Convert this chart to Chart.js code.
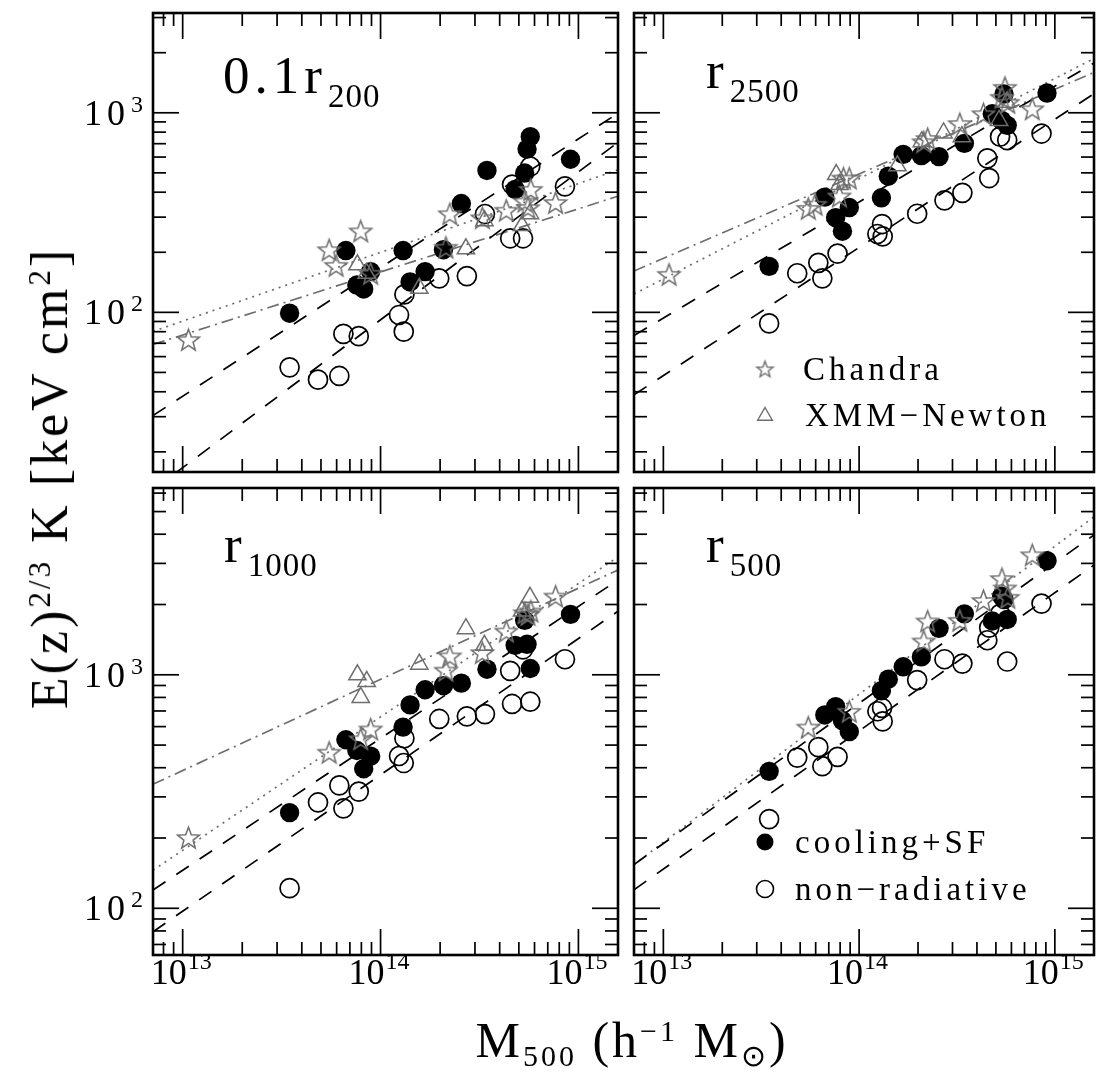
<!DOCTYPE html>
<html>
<head>
<meta charset="utf-8">
<title>Entropy - mass relation</title>
<style>
  body { margin: 0; background: #fff; }
  #wrap { position: relative; width: 1107px; height: 1081px; font-family: "Liberation Serif", serif; color: #000; }
  #wrap canvas { position: absolute; left: 0; top: 0; }
  #ytitle { position: absolute; left: 50px; top: 478px; transform: translate(-50%, -50%) rotate(-90deg);
            font-size: 52px; line-height: 1; white-space: nowrap; letter-spacing: 3px; }
  #xtitle { position: absolute; left: 632px; top: 1040px; transform: translate(-50%, -50%);
            font-size: 50px; line-height: 1; white-space: nowrap; letter-spacing: 3px; }
  sup { font-size: 0.6em; vertical-align: 0.55em; line-height: 0; }
  sub { font-size: 0.6em; vertical-align: -0.3em; line-height: 0; }
</style>
</head>
<body>
<div id="wrap">
  <canvas id="c0" width="1107" height="1081"></canvas>
  <canvas id="c1" width="1107" height="1081"></canvas>
  <canvas id="c2" width="1107" height="1081"></canvas>
  <canvas id="c3" width="1107" height="1081"></canvas>
  <div id="ytitle">E(z)<sup>2/3</sup> K [keV cm<sup>2</sup>]</div>
  <div id="xtitle">M<sub>500</sub> (h<sup>−1</sup> M<sub>⊙</sub>)</div>
</div>
<script src="https://cdn.jsdelivr.net/npm/chart.js@4.4.1/dist/chart.umd.min.js"></script>
<script>
// masses in units of 1e14 h^-1 Msun
const massCool    = [0.347, 0.668, 0.759, 0.822, 0.891, 1.30, 1.41, 1.68, 2.08, 2.56, 3.45, 4.79, 5.35, 5.50, 5.71, 9.12];
const massNonRad  = [0.347, 0.483, 0.619, 0.649, 0.776, 1.24, 1.31, 1.32, 1.98, 2.73, 3.37, 4.52, 4.62, 5.25, 5.71, 8.55];
const massChandra = [0.107, 0.550, 0.596, 0.794, 0.832, 0.891, 2.14, 2.24, 3.27, 4.32, 5.37, 5.56, 5.75, 7.67];
const massXMM     = [0.764, 0.794, 0.851, 1.57, 2.09, 2.70, 3.35, 5.19, 5.69];
const fitMass     = [0.0708, 15.85];

// entropy (keV cm^2) at 0.1 r200
const coolK01    = [99, 204, 137, 131, 160, 204, 142, 160, 206, 351, 514, 413, 499, 658, 759, 585];
const nonRadK01  = [53, 46, 48, 78, 76, 97, 80, 123, 148, 152, 311, 235, 437, 235, 538, 428];
const chandraK01 = [73, 206, 172, 256, null, 157, 212, 312, 298, 325, 361, 335, 413, 355];
const xmmK01     = [173, null, 157, 132, null, 208, 288, 272, 312];
const fitsK01    = { cool: [30.4, 995], nonRad: [12.9, 711], chandra: [80.2, 518], xmm: [69, 382] };

// r2500
const coolK2500    = [170, 378, 298, 255, 335, 375, 481, 619, 610, 603, 703, 989, 916, 1242, 865, 1256];
const nonRadK2500  = [88, 157, 177, 148, 197, 247, 277, 240, 312, 364, 397, 591, 471, 759, 730, 787];
const chandraK2500 = [155, 332, 348, 383, 471, 471, 716, 743, 883, 989, 1196, 1341, 1129, 1047];
const xmmK2500     = [490, 437, null, 542, 716, 793, 759, 916, 1129];
const fitsK2500    = { cool: [76.6, 1778], nonRad: [38.6, 1247], chandra: [123.6, 1871], xmm: [161, 1592] };

// r1000
const coolK1000    = [257, 527, 474, 396, 448, 597, 743, 863, 898, 921, 1057, 1337, 1711, 1351, 1064, 1814];
const nonRadK1000  = [122, 284, 336, 268, 316, 449, 419, 535, 647, 664, 679, 1040, 750, 1286, 767, 1166];
const chandraK1000 = [201, 466, null, 532, null, 586, 1047, 1205, 1245, 1540, 1845, 1814, 1875, 2173];
const xmmK1000     = [1000, 800, 937, 1110, null, 1575, 1337, 1875, 2148];
const fitsK1000    = { cool: [119.7, 2547], nonRad: [79.4, 1871], chandra: [145.5, 3199], xmm: [340, 2812] };

// r500
const coolK500    = [386, 673, 731, 637, 571, 855, 958, 1082, 1193, 1581, 1824, 1700, 2173, 2100, 1726, 3080];
const nonRadK500  = [241, 442, 490, 406, 445, 698, 721, 632, 949, 1166, 1117, 1406, 1592, 1824, 1140, 2018];
const chandraK500 = [null, 597, null, null, null, 698, 1396, 1700, 1711, 2080, 2582, 2355, 2148, 3266];
const xmmK500     = [];
const fitsK500    = { cool: [154, 3972], nonRad: [120, 2951], chandra: [154, 4753], xmm: null };

const xTickVals = [1e13, 1e14, 1e15];
const xTickExp  = ['13', '14', '15'];
const yTickVals = [1e2, 1e3];
const yTickExp  = ['2', '3'];

const GRAY = '#6e6e6e';
const SERIF = '"Liberation Serif", "DejaVu Serif", serif';

function makeStar(r, lw, color) {
  const s = Math.ceil(2 * r + lw + 4);
  const c = document.createElement('canvas');
  c.width = c.height = s;
  const g = c.getContext('2d');
  g.translate(s / 2, s / 2 + r * 0.1);
  g.beginPath();
  for (let i = 0; i < 10; i++) {
    const rr = i % 2 ? r * 0.42 : r;
    const ang = -Math.PI / 2 + i * Math.PI / 5;
    g.lineTo(rr * Math.cos(ang), rr * Math.sin(ang));
  }
  g.closePath();
  g.strokeStyle = color;
  g.lineWidth = lw;
  g.stroke();
  return c;
}
const starImg = makeStar(11.5, 1.5, GRAY);
const starSmall = makeStar(8.5, 1.4, GRAY);

function pts(mass, vals) {
  const out = [];
  mass.forEach((m, i) => {
    if (vals[i] != null) out.push({ x: m * 1e14, y: vals[i] });
  });
  return out;
}

function drawTriangle(ctx, x, y, r) {
  ctx.beginPath();
  for (let i = 0; i < 3; i++) {
    const ang = -Math.PI / 2 + i * 2 * Math.PI / 3;
    ctx.lineTo(x + r * Math.cos(ang), y + r * Math.sin(ang));
  }
  ctx.closePath();
  ctx.stroke();
}

const framePlugin = {
  id: 'frame',
  afterDatasetsDraw(chart, args, o) {
    const ctx = chart.ctx, a = chart.chartArea;
    const xs = chart.scales.x, ys = chart.scales.y;
    const seg = (x1, y1, x2, y2) => { ctx.beginPath(); ctx.moveTo(x1, y1); ctx.lineTo(x2, y2); ctx.stroke(); };
    ctx.save();
    ctx.strokeStyle = '#000';
    ctx.lineWidth = 1.7;
    for (let d = 12; d <= 15; d++) {
      for (let m = 1; m <= 9; m++) {
        const v = m * Math.pow(10, d);
        if (v < xs.min || v > xs.max) continue;
        const px = xs.getPixelForValue(v), len = m === 1 ? 26 : 13;
        seg(px, a.top, px, a.top + len);
        seg(px, a.bottom, px, a.bottom - len);
      }
    }
    for (let d = 1; d <= 3; d++) {
      for (let m = 1; m <= 9; m++) {
        const v = m * Math.pow(10, d);
        if (v < ys.min || v > ys.max) continue;
        const py = ys.getPixelForValue(v), len = m === 1 ? 26 : 13;
        seg(a.left, py, a.left + len, py);
        seg(a.right, py, a.right - len, py);
      }
    }
    ctx.lineWidth = 2.6;
    ctx.strokeRect(a.left, a.top, a.right - a.left, a.bottom - a.top);

    ctx.fillStyle = '#000';
    ctx.textBaseline = 'alphabetic';
    if (o.showY) {
      yTickVals.forEach((v, i) => {
        const py = ys.getPixelForValue(v);
        ctx.textAlign = 'right';
        ctx.font = '24px ' + SERIF;
        ctx.letterSpacing = '0px';
        const ex = a.left - 10;
        ctx.fillText(yTickExp[i], ex, py - 1);
        const w = ctx.measureText(yTickExp[i]).width;
        ctx.font = '36px ' + SERIF;
        ctx.letterSpacing = '5px';
        ctx.fillText('10', ex - w - 1, py + 12);
      });
    }
    if (o.showX) {
      xTickVals.forEach((v, i) => {
        const px = xs.getPixelForValue(v);
        ctx.textAlign = 'left';
        ctx.letterSpacing = '0px';
        ctx.font = '36px ' + SERIF;
        ctx.fillText('10', px - 32, a.bottom + 29);
        ctx.font = '24px ' + SERIF;
        ctx.fillText(xTickExp[i], px + 5, a.bottom + 14);
      });
    }

    // panel label
    ctx.textAlign = 'left';
    ctx.font = '53px ' + SERIF;
    ctx.letterSpacing = '5px';
    const lx = a.left + o.labelDx;
    ctx.fillText(o.label, lx, a.top + o.labelDy);
    const lw = ctx.measureText(o.label).width - 5;
    ctx.font = '33px ' + SERIF;
    ctx.letterSpacing = '1px';
    ctx.fillText(o.sub, lx + lw + 6, a.top + o.labelDy + 14);

    // legend
    (o.legend || []).forEach(e => {
      const x = a.left + 131, y = a.top + e.dy;
      if (e.kind === 'star') {
        ctx.drawImage(starSmall, x - starSmall.width / 2, y - starSmall.height / 2);
      } else if (e.kind === 'triangle') {
        ctx.strokeStyle = GRAY; ctx.lineWidth = 1.4;
        drawTriangle(ctx, x, y + 1, 8.5);
      } else {
        ctx.beginPath(); ctx.arc(x, y, 8.5, 0, 2 * Math.PI);
        if (e.kind === 'filled') { ctx.fillStyle = '#000'; ctx.fill(); }
        else { ctx.strokeStyle = '#000'; ctx.lineWidth = 1.6; ctx.stroke(); }
      }
      ctx.fillStyle = '#000';
      ctx.font = '33px ' + SERIF;
      ctx.letterSpacing = '4px';
      ctx.fillText(e.text, a.left + e.tx, y + 11);
    });
    ctx.restore();
  }
};

function fitLine(vals, color, dash, order) {
  return {
    data: fitMass.map((m, i) => ({ x: m * 1e14, y: vals[i] })),
    showLine: true, pointRadius: 0, borderColor: color, borderWidth: 1.7,
    borderDash: dash, order: order
  };
}

const panels = [
  { id: 'c0', pad: { left: 153, top: 5, right: 489, bottom: 609 }, yMin: Math.pow(10, 1.2), yMax: Math.pow(10, 3.5),
    cool: coolK01, nonRad: nonRadK01, chandra: chandraK01, xmm: xmmK01, fits: fitsK01,
    label: '0.1r', sub: '200', labelDx: 70, labelDy: 80, showY: true, showX: false, legend: null },
  { id: 'c1', pad: { left: 634, top: 5, right: 6, bottom: 609 }, yMin: Math.pow(10, 1.2), yMax: Math.pow(10, 3.5),
    cool: coolK2500, nonRad: nonRadK2500, chandra: chandraK2500, xmm: xmmK2500, fits: fitsK2500,
    label: 'r', sub: '2500', labelDx: 72, labelDy: 75, showY: false, showX: false,
    legend: [{ kind: 'star', text: 'Chandra', dy: 356, tx: 169 }, { kind: 'triangle', text: 'XMM−Newton', dy: 402, tx: 171 }] },
  { id: 'c2', pad: { left: 153, top: 488, right: 489, bottom: 126 }, yMin: Math.pow(10, 1.8), yMax: Math.pow(10, 3.8),
    cool: coolK1000, nonRad: nonRadK1000, chandra: chandraK1000, xmm: xmmK1000, fits: fitsK1000,
    label: 'r', sub: '1000', labelDx: 71, labelDy: 74, showY: true, showX: true, legend: null },
  { id: 'c3', pad: { left: 634, top: 488, right: 6, bottom: 126 }, yMin: Math.pow(10, 1.8), yMax: Math.pow(10, 3.8),
    cool: coolK500, nonRad: nonRadK500, chandra: chandraK500, xmm: xmmK500, fits: fitsK500,
    label: 'r', sub: '500', labelDx: 72, labelDy: 74, showY: false, showX: true,
    legend: [{ kind: 'filled', text: 'cooling+SF', dy: 354, tx: 161 }, { kind: 'open', text: 'non−radiative', dy: 401, tx: 161 }] }
];

panels.forEach(p => {
  const datasets = [
    { data: pts(massChandra, p.chandra), pointStyle: starImg, pointRadius: 12, order: 0 },
    { data: pts(massXMM, p.xmm), pointStyle: 'triangle', pointRadius: 10, borderColor: GRAY,
      backgroundColor: 'rgba(0,0,0,0)', borderWidth: 1.5, order: 1 },
    { data: pts(massCool, p.cool), pointStyle: 'circle', pointRadius: 9.7, backgroundColor: '#000',
      borderColor: '#000', borderWidth: 0, order: 2 },
    { data: pts(massNonRad, p.nonRad), pointStyle: 'circle', pointRadius: 9.5, backgroundColor: 'rgba(0,0,0,0)',
      borderColor: '#000', borderWidth: 1.7, order: 3 },
    fitLine(p.fits.cool, '#000', [15, 13], 4),
    fitLine(p.fits.nonRad, '#000', [15, 13], 4),
    fitLine(p.fits.chandra, GRAY, [2, 5], 4)
  ];
  if (p.fits.xmm) datasets.push(fitLine(p.fits.xmm, GRAY, [12, 5, 2, 5], 4));

  new Chart(document.getElementById(p.id), {
    type: 'scatter',
    data: { datasets: datasets },
    options: {
      responsive: false,
      animation: false,
      devicePixelRatio: 1,
      events: [],
      layout: { padding: p.pad },
      scales: {
        x: { type: 'logarithmic', min: fitMass[0] * 1e14, max: fitMass[1] * 1e14, display: false },
        y: { type: 'logarithmic', min: p.yMin, max: p.yMax, display: false }
      },
      plugins: {
        legend: { display: false },
        tooltip: { enabled: false },
        frame: { label: p.label, sub: p.sub, labelDx: p.labelDx, labelDy: p.labelDy,
                 showX: p.showX, showY: p.showY, legend: p.legend }
      }
    },
    plugins: [framePlugin]
  });
});
</script>
</body>
</html>
